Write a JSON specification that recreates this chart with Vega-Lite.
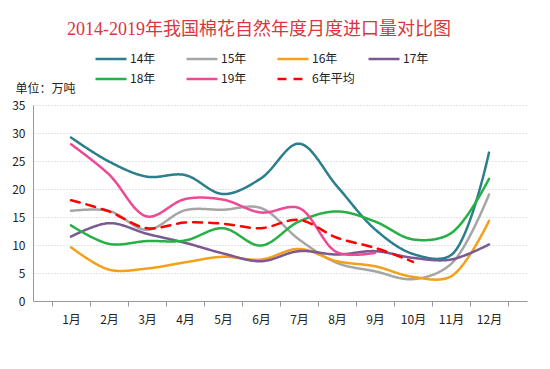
{
  "$schema": "https://vega.github.io/schema/vega-lite/v6.json",
  "autosize": {"type": "none"},
  "width": 494,
  "height": 196,
  "padding": {"left": 33, "top": 105, "right": 23, "bottom": 68},
  "background": "white",
  "title": {
    "text": "2014-2019年我国棉花自然年度月度进口量对比图",
    "anchor": "middle",
    "frame": "group",
    "offset": 11,
    "dx": -21,
    "font": "Liberation Serif, Noto Sans CJK SC",
    "fontSize": 18,
    "fontWeight": "normal",
    "color": "#d9363e"
  },
  "config": {
    "view": {"stroke": null},
    "font": "Noto Sans CJK SC"
  },
  "data": {
    "values": [
      {"month": "1月", "series": "14年", "v": 29.2},
      {"month": "2月", "series": "14年", "v": 24.9},
      {"month": "3月", "series": "14年", "v": 22.2},
      {"month": "4月", "series": "14年", "v": 22.5},
      {"month": "5月", "series": "14年", "v": 19.1},
      {"month": "6月", "series": "14年", "v": 21.9},
      {"month": "7月", "series": "14年", "v": 28.1},
      {"month": "8月", "series": "14年", "v": 20.5},
      {"month": "9月", "series": "14年", "v": 12.8},
      {"month": "10月", "series": "14年", "v": 8.4},
      {"month": "11月", "series": "14年", "v": 8.2},
      {"month": "12月", "series": "14年", "v": 26.5},
      {"month": "1月", "series": "15年", "v": 16.1},
      {"month": "2月", "series": "15年", "v": 16.1},
      {"month": "3月", "series": "15年", "v": 12.7},
      {"month": "4月", "series": "15年", "v": 16.2},
      {"month": "5月", "series": "15年", "v": 16.3},
      {"month": "6月", "series": "15年", "v": 16.6},
      {"month": "7月", "series": "15年", "v": 11.0},
      {"month": "8月", "series": "15年", "v": 6.8},
      {"month": "9月", "series": "15年", "v": 5.3},
      {"month": "10月", "series": "15年", "v": 3.9},
      {"month": "11月", "series": "15年", "v": 6.6},
      {"month": "12月", "series": "15年", "v": 19.0},
      {"month": "1月", "series": "16年", "v": 9.6},
      {"month": "2月", "series": "16年", "v": 5.6},
      {"month": "3月", "series": "16年", "v": 5.8},
      {"month": "4月", "series": "16年", "v": 6.9},
      {"month": "5月", "series": "16年", "v": 7.9},
      {"month": "6月", "series": "16年", "v": 7.4},
      {"month": "7月", "series": "16年", "v": 9.3},
      {"month": "8月", "series": "16年", "v": 7.1},
      {"month": "9月", "series": "16年", "v": 6.2},
      {"month": "10月", "series": "16年", "v": 4.3},
      {"month": "11月", "series": "16年", "v": 4.4},
      {"month": "12月", "series": "16年", "v": 14.3},
      {"month": "1月", "series": "17年", "v": 11.5},
      {"month": "2月", "series": "17年", "v": 13.9},
      {"month": "3月", "series": "17年", "v": 12.0},
      {"month": "4月", "series": "17年", "v": 10.4},
      {"month": "5月", "series": "17年", "v": 8.5},
      {"month": "6月", "series": "17年", "v": 7.1},
      {"month": "7月", "series": "17年", "v": 8.9},
      {"month": "8月", "series": "17年", "v": 8.3},
      {"month": "9月", "series": "17年", "v": 8.9},
      {"month": "10月", "series": "17年", "v": 7.7},
      {"month": "11月", "series": "17年", "v": 7.4},
      {"month": "12月", "series": "17年", "v": 10.1},
      {"month": "1月", "series": "18年", "v": 13.5},
      {"month": "2月", "series": "18年", "v": 10.2},
      {"month": "3月", "series": "18年", "v": 10.7},
      {"month": "4月", "series": "18年", "v": 10.8},
      {"month": "5月", "series": "18年", "v": 13.0},
      {"month": "6月", "series": "18年", "v": 9.9},
      {"month": "7月", "series": "18年", "v": 14.2},
      {"month": "8月", "series": "18年", "v": 16.0},
      {"month": "9月", "series": "18年", "v": 14.2},
      {"month": "10月", "series": "18年", "v": 11.0},
      {"month": "11月", "series": "18年", "v": 12.1},
      {"month": "12月", "series": "18年", "v": 21.8},
      {"month": "1月", "series": "19年", "v": 28.0},
      {"month": "2月", "series": "19年", "v": 22.6},
      {"month": "3月", "series": "19年", "v": 15.1},
      {"month": "4月", "series": "19年", "v": 18.2},
      {"month": "5月", "series": "19年", "v": 18.1},
      {"month": "6月", "series": "19年", "v": 15.8},
      {"month": "7月", "series": "19年", "v": 16.6},
      {"month": "8月", "series": "19年", "v": 8.7},
      {"month": "9月", "series": "19年", "v": 8.6},
      {"month": "1月", "series": "6年平均", "v": 18.0},
      {"month": "2月", "series": "6年平均", "v": 16.0},
      {"month": "3月", "series": "6年平均", "v": 13.0},
      {"month": "4月", "series": "6年平均", "v": 14.0},
      {"month": "5月", "series": "6年平均", "v": 13.8},
      {"month": "6月", "series": "6年平均", "v": 13.0},
      {"month": "7月", "series": "6年平均", "v": 14.5},
      {"month": "8月", "series": "6年平均", "v": 11.3},
      {"month": "9月", "series": "6年平均", "v": 9.5},
      {"month": "10月", "series": "6年平均", "v": 7.0}
    ]
  },
  "mark": {"type": "line", "interpolate": "catmull-rom", "strokeCap": "round"},
  "encoding": {
    "x": {
      "field": "month",
      "type": "ordinal",
      "sort": ["1月","2月","3月","4月","5月","6月","7月","8月","9月","10月","11月","12月"],
      "scale": {"paddingInner": 0, "paddingOuter": 0.5},
      "axis": {
        "title": null,
        "labelAngle": 0,
        "labelFontSize": 12,
        "labelColor": "#222",
        "labelPadding": 8,
        "domainColor": "#999",
        "tickColor": "#999",
        "tickSize": 5,
        "tickBand": "extent",
        "grid": false
      }
    },
    "y": {
      "field": "v",
      "type": "quantitative",
      "scale": {"domain": [0, 35], "nice": false},
      "axis": {
        "values": [0,5,10,15,20,25,30,35],
        "title": "单位：万吨",
        "titleAngle": 0,
        "titleX": -18,
        "titleY": -17,
        "titleAlign": "left",
        "titleBaseline": "middle",
        "titleFontSize": 12,
        "titleFontWeight": "normal",
        "titleColor": "#222",
        "labelFontSize": 12,
        "labelColor": "#222",
        "labelPadding": 8,
        "ticks": false,
        "domain": true,
        "domainColor": "#999",
        "gridColor": "#c8c8c8",
        "gridDash": [1, 2]
      }
    },
    "color": {
      "field": "series",
      "type": "nominal",
      "sort": ["14年","15年","16年","17年","18年","19年","6年平均"],
      "scale": {
        "domain": ["14年","15年","16年","17年","18年","19年","6年平均"],
        "range": ["#2b7f8c","#a6a6a6","#f5a01a","#7b5a93","#27b046","#ec4a94","#ff0000"]
      },
      "legend": {
        "title": null,
        "orient": "none",
        "legendX": 69,
        "legendY": -55,
        "direction": "horizontal",
        "columns": 4,
        "gridAlign": "all",
        "columnPadding": 8,
        "rowPadding": 5,
        "symbolType": "M-2,0H2",
        "symbolSize": 240,
        "symbolStrokeWidth": 3,
        "labelFontSize": 12,
        "labelColor": "#222",
        "labelOffset": 10
      }
    },
    "strokeDash": {
      "field": "series",
      "type": "nominal",
      "sort": ["14年","15年","16年","17年","18年","19年","6年平均"],
      "scale": {
        "domain": ["14年","15年","16年","17年","18年","19年","6年平均"],
        "range": [[1,0],[1,0],[1,0],[1,0],[1,0],[1,0],[9,7]]
      }
    },
    "strokeWidth": {
      "field": "series",
      "type": "nominal",
      "scale": {
        "domain": ["14年","15年","16年","17年","18年","19年","6年平均"],
        "range": [2.5,2.5,2.5,2.5,2.5,2.5,4.5]
      },
      "legend": null
    }
  }
}
